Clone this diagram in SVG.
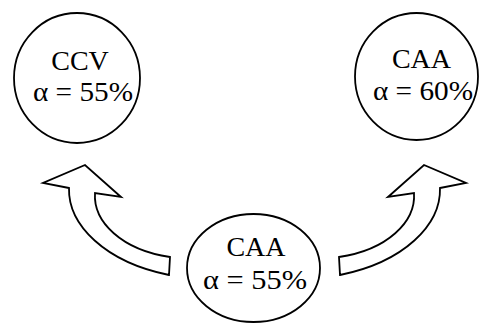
<svg xmlns="http://www.w3.org/2000/svg" width="479" height="324" viewBox="0 0 479 324">
<style>
.n{fill:#fff;stroke:#000;stroke-width:1.8}
.a{fill:#fff;stroke:#000;stroke-width:1.8;stroke-linejoin:miter}
text{font-family:"Liberation Serif","Times New Roman",serif;font-size:28px;fill:#000;text-anchor:middle}
</style>
<g id="connectors">
<path class="a" d="M69 188 L43 183 L85 165 L121 197 L95 193 C93 222 122 250 170 257 L169 275 C105 262 68 225 69 188 Z"/>
<path class="a" d="M440 188 L466 183 L424 165 L388 197 L414 193 C416 222 387 250 339 257 L340 275 C404 262 441 225 440 188 Z"/>
</g>
<g id="ccv">
<ellipse class="n" cx="77" cy="78" rx="63" ry="65"/>
<text x="80" y="70">CCV</text>
<text x="83" y="101" textLength="100" lengthAdjust="spacingAndGlyphs">α = 55%</text>
</g>
<g id="caa60">
<ellipse class="n" cx="416.5" cy="76.5" rx="61.5" ry="63.5"/>
<text x="421.5" y="68">CAA</text>
<text x="423" y="100" textLength="100" lengthAdjust="spacingAndGlyphs">α = 60%</text>
</g>
<g id="caa55">
<ellipse class="n" cx="253.5" cy="268" rx="66.5" ry="54"/>
<text x="256" y="256">CAA</text>
<text x="255" y="289" textLength="104" lengthAdjust="spacingAndGlyphs">α = 55%</text>
</g>
</svg>
